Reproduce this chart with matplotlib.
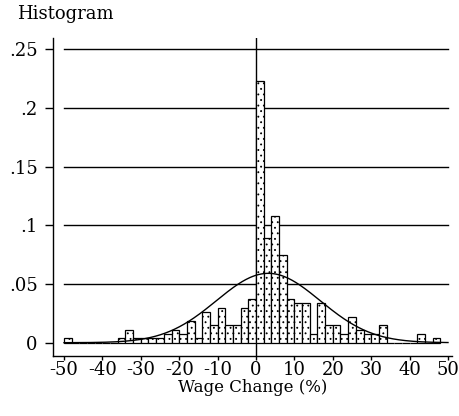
import numpy as np
import matplotlib
matplotlib.use("Agg")
import matplotlib.pyplot as plt

# ---- data ----
bin_left = list(range(-50, 48, 2))          # bin left edges, width 2
counts = [1, 0, 0, 0, 0, 0, 0, 1, 3, 1,      # -50 .. -32
          1, 1, 1, 2, 3, 2, 5, 1, 7, 4,      # -30 .. -12
          8, 4, 4, 8, 10, 60, 24, 29, 20, 10,  # -10 .. 8
          9, 9, 2, 9, 4, 4, 2, 6, 3, 2,      # 10 .. 28
          2, 4, 0, 0, 0, 0, 2, 0, 1, 1]      # 30 .. 48
bin_width = 2
curve_mean = 3.2
curve_sd = 13.5
xticks = [-50, -40, -30, -20, -10, 0, 10, 20, 30, 40, 50]
yticks = [0, 0.05, 0.1, 0.15, 0.2, 0.25]
ytick_labels = ["0", ".05", ".1", ".15", ".2", ".25"]

counts = counts[:len(bin_left)]
total = sum(counts)
fractions = [c / total for c in counts]

plt.rcParams['font.family'] = ['DejaVu Serif']
plt.rcParams['hatch.linewidth'] = 0.6
plt.rcParams['hatch.color'] = '#808080'

W, H = 459, 416
fig = plt.figure(figsize=(W / 100, H / 100), dpi=100)

# axes box in pixels
x0_px, x1_px = 53, 452
y_top_px, y_bot_px = 38, 356
ax = fig.add_axes([x0_px / W, 1 - y_bot_px / H, (x1_px - x0_px) / W, (y_bot_px - y_top_px) / H])

xpx = 3.84   # px per x unit
ypx = 1174.0  # px per y unit
zero_px = 342.7
ax.set_xlim(-50 - (64 - x0_px) / xpx, 50 + (x1_px - 448) / xpx)
ax.set_ylim(-(y_bot_px - zero_px) / ypx, 0.25 + (49.3 - y_top_px) / ypx)

# grid lines
for yv in yticks[1:]:
    ax.plot([-50, 50], [yv, yv], color='black', lw=1.0, zorder=1)

# vertical line at 0
ax.axvline(0, color='black', lw=1.0, zorder=1)

# bars
ax.bar(bin_left, fractions, width=bin_width, align='edge', facecolor='white',
       edgecolor='black', linewidth=0.9, hatch='...', zorder=2)

# normal curve overlay (fraction scale)
xs = np.linspace(-50, 50, 400)
ys = bin_width * np.exp(-0.5 * ((xs - curve_mean) / curve_sd) ** 2) / (curve_sd * np.sqrt(2 * np.pi))
ax.plot(xs, ys, color='black', lw=1.0, zorder=3)

for s in ['top', 'right']:
    ax.spines[s].set_visible(False)
for s in ['left', 'bottom']:
    ax.spines[s].set_linewidth(1.0)

ax.set_xticks(xticks)
ax.set_xticklabels([str(v) for v in xticks])
ax.set_yticks(yticks)
ax.set_yticklabels(ytick_labels)
ax.tick_params(axis='y', direction='out', length=6, width=1.0, labelsize=13, pad=5)
ax.tick_params(axis='x', direction='out', length=3, width=1.0, labelsize=13, pad=0.5)

ax.set_xlabel("Wage Change (%)", fontsize=12, labelpad=0)
fig.text(17 / W, 1 - 14 / H, "Histogram", fontsize=13, va='center', ha='left')

fig.savefig("out.png", dpi=100)
